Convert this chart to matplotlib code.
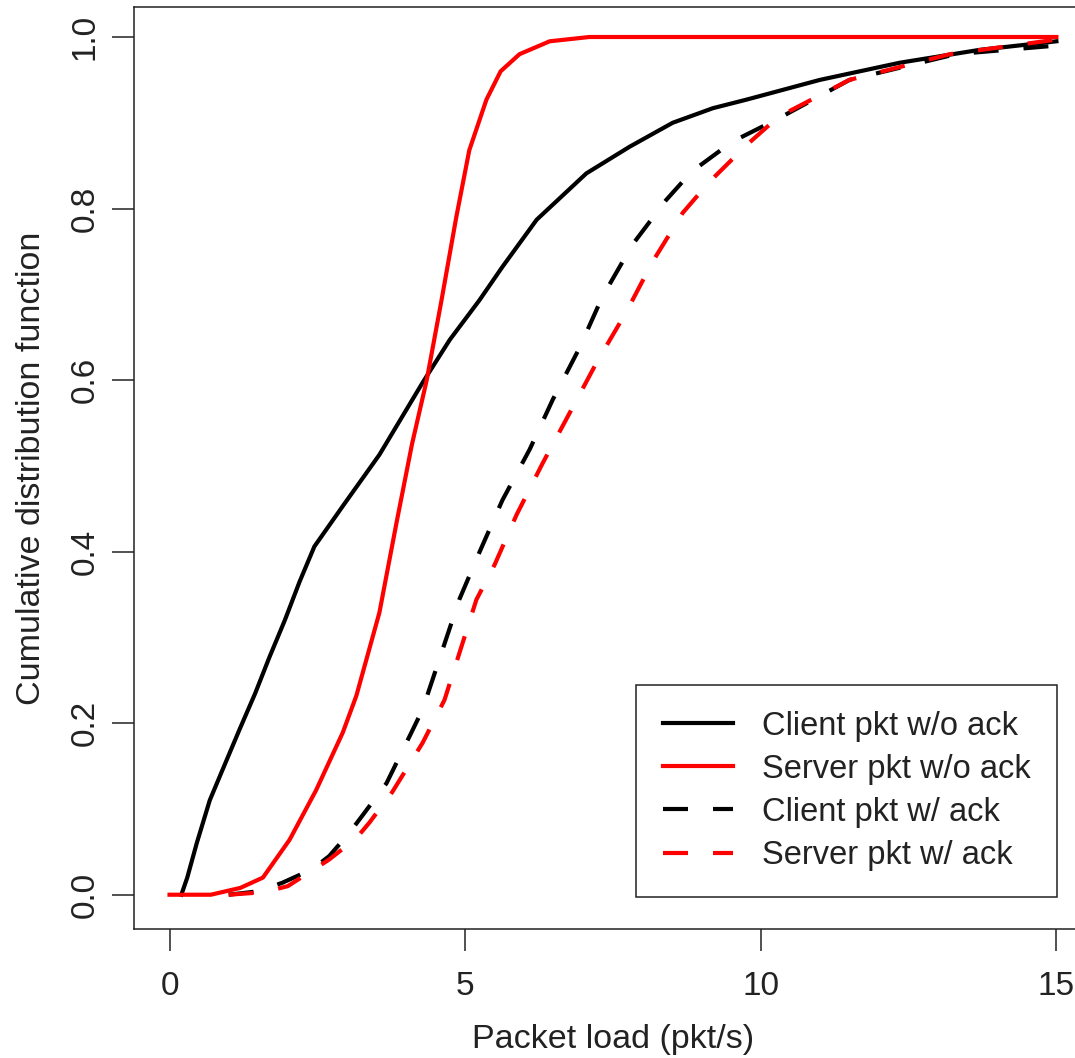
import matplotlib
matplotlib.use("Agg")
import matplotlib.pyplot as plt

plt.rcParams['font.family'] = ['Liberation Sans', 'DejaVu Sans']

# CDF curves
client_noack_x = [0.2, 0.3, 0.46, 0.68, 0.85, 1.18, 1.45, 1.69, 1.95, 2.2, 2.45, 2.95, 3.55, 4.28, 4.74, 5.24, 5.63, 6.21, 7.05, 7.78, 8.51, 9.19, 9.76, 11.0, 12.35, 13.7, 15.0]
client_noack_y = [0.0, 0.02, 0.06, 0.11, 0.138, 0.192, 0.235, 0.277, 0.32, 0.365, 0.406, 0.455, 0.513, 0.597, 0.647, 0.693, 0.732, 0.787, 0.841, 0.872, 0.90, 0.917, 0.927, 0.95, 0.97, 0.985, 0.995]

server_noack_x = [0.0, 0.7, 1.2, 1.58, 2.03, 2.48, 2.93, 3.16, 3.55, 3.84, 4.1, 4.35, 4.6, 4.85, 5.07, 5.36, 5.6, 5.92, 6.43, 7.1, 15.0]
server_noack_y = [0.0, 0.0, 0.008, 0.02, 0.064, 0.122, 0.189, 0.232, 0.329, 0.434, 0.525, 0.60, 0.693, 0.79, 0.868, 0.927, 0.96, 0.98, 0.995, 1.0, 1.0]

client_ack_x = [1.0, 1.5, 1.91, 2.42, 2.7, 3.04, 3.27, 3.67, 4.09, 4.28, 4.9, 5.24, 5.63, 6.09, 6.48, 6.93, 7.32, 7.83, 8.4, 8.83, 9.52, 10.3, 11.5, 13.3, 15.0]
client_ack_y = [0.0, 0.004, 0.014, 0.03, 0.045, 0.072, 0.093, 0.13, 0.189, 0.216, 0.344, 0.399, 0.46, 0.519, 0.577, 0.637, 0.697, 0.758, 0.81, 0.843, 0.878, 0.905, 0.95, 0.98, 0.99]

server_ack_x = [1.0, 1.6, 2.0, 2.7, 3.16, 3.38, 3.77, 4.28, 4.65, 5.19, 5.5, 5.87, 6.31, 6.77, 7.22, 7.73, 8.17, 8.68, 9.13, 9.76, 10.3, 11.5, 13.2, 15.0]
server_ack_y = [0.0, 0.003, 0.01, 0.041, 0.066, 0.084, 0.12, 0.177, 0.227, 0.344, 0.385, 0.443, 0.503, 0.562, 0.62, 0.68, 0.738, 0.795, 0.831, 0.874, 0.907, 0.95, 0.98, 0.997]

fig = plt.figure(figsize=(10.75, 10.58), dpi=100)
ax = fig.add_axes([0.1247, 0.1219, 0.891, 0.8715])

lw = 3
ax.plot(client_noack_x, client_noack_y, color='black', lw=lw, label='Client pkt w/o ack')
ax.plot(server_noack_x, server_noack_y, color='red', lw=lw, label='Server pkt w/o ack')
ax.plot(client_ack_x, client_ack_y, color='black', lw=lw, dashes=(6, 6), label='Client pkt w/ ack')
ax.plot(server_ack_x, server_ack_y, color='red', lw=lw, dashes=(6, 6), label='Server pkt w/ ack')

ax.set_xlim(-0.6, 15.6)
ax.set_ylim(-0.04, 1.035)
ax.set_xticks([0, 5, 10, 15])
ax.set_yticks([0.0, 0.2, 0.4, 0.6, 0.8, 1.0])
ax.set_yticklabels(['0.0', '0.2', '0.4', '0.6', '0.8', '1.0'], rotation=90, va='center')
ax.tick_params(axis='both', labelsize=24, length=16, width=1.1, colors='#222222')
ax.tick_params(axis='x', pad=14)
ax.tick_params(axis='y', pad=8)
for s in ax.spines.values():
    s.set_linewidth(1.1)
    s.set_color('#222222')

ax.set_xlabel('Packet load (pkt/s)', fontsize=24.5, color='#222222', labelpad=16)
ax.set_ylabel('Cumulative distribution function', fontsize=24.5, color='#222222', labelpad=16)

leg = ax.legend(loc='lower right', bbox_to_anchor=(0.9635, 0.0347), fontsize=23.5,
                frameon=True, fancybox=False, edgecolor='#222222', framealpha=1,
                handlelength=2.15, handletextpad=0.9, labelspacing=0.37, borderpad=0.8,
                borderaxespad=0)
leg.get_frame().set_linewidth(1.1)
for t in leg.get_texts():
    t.set_color('#222222')

fig.savefig('out.png', dpi=100)
